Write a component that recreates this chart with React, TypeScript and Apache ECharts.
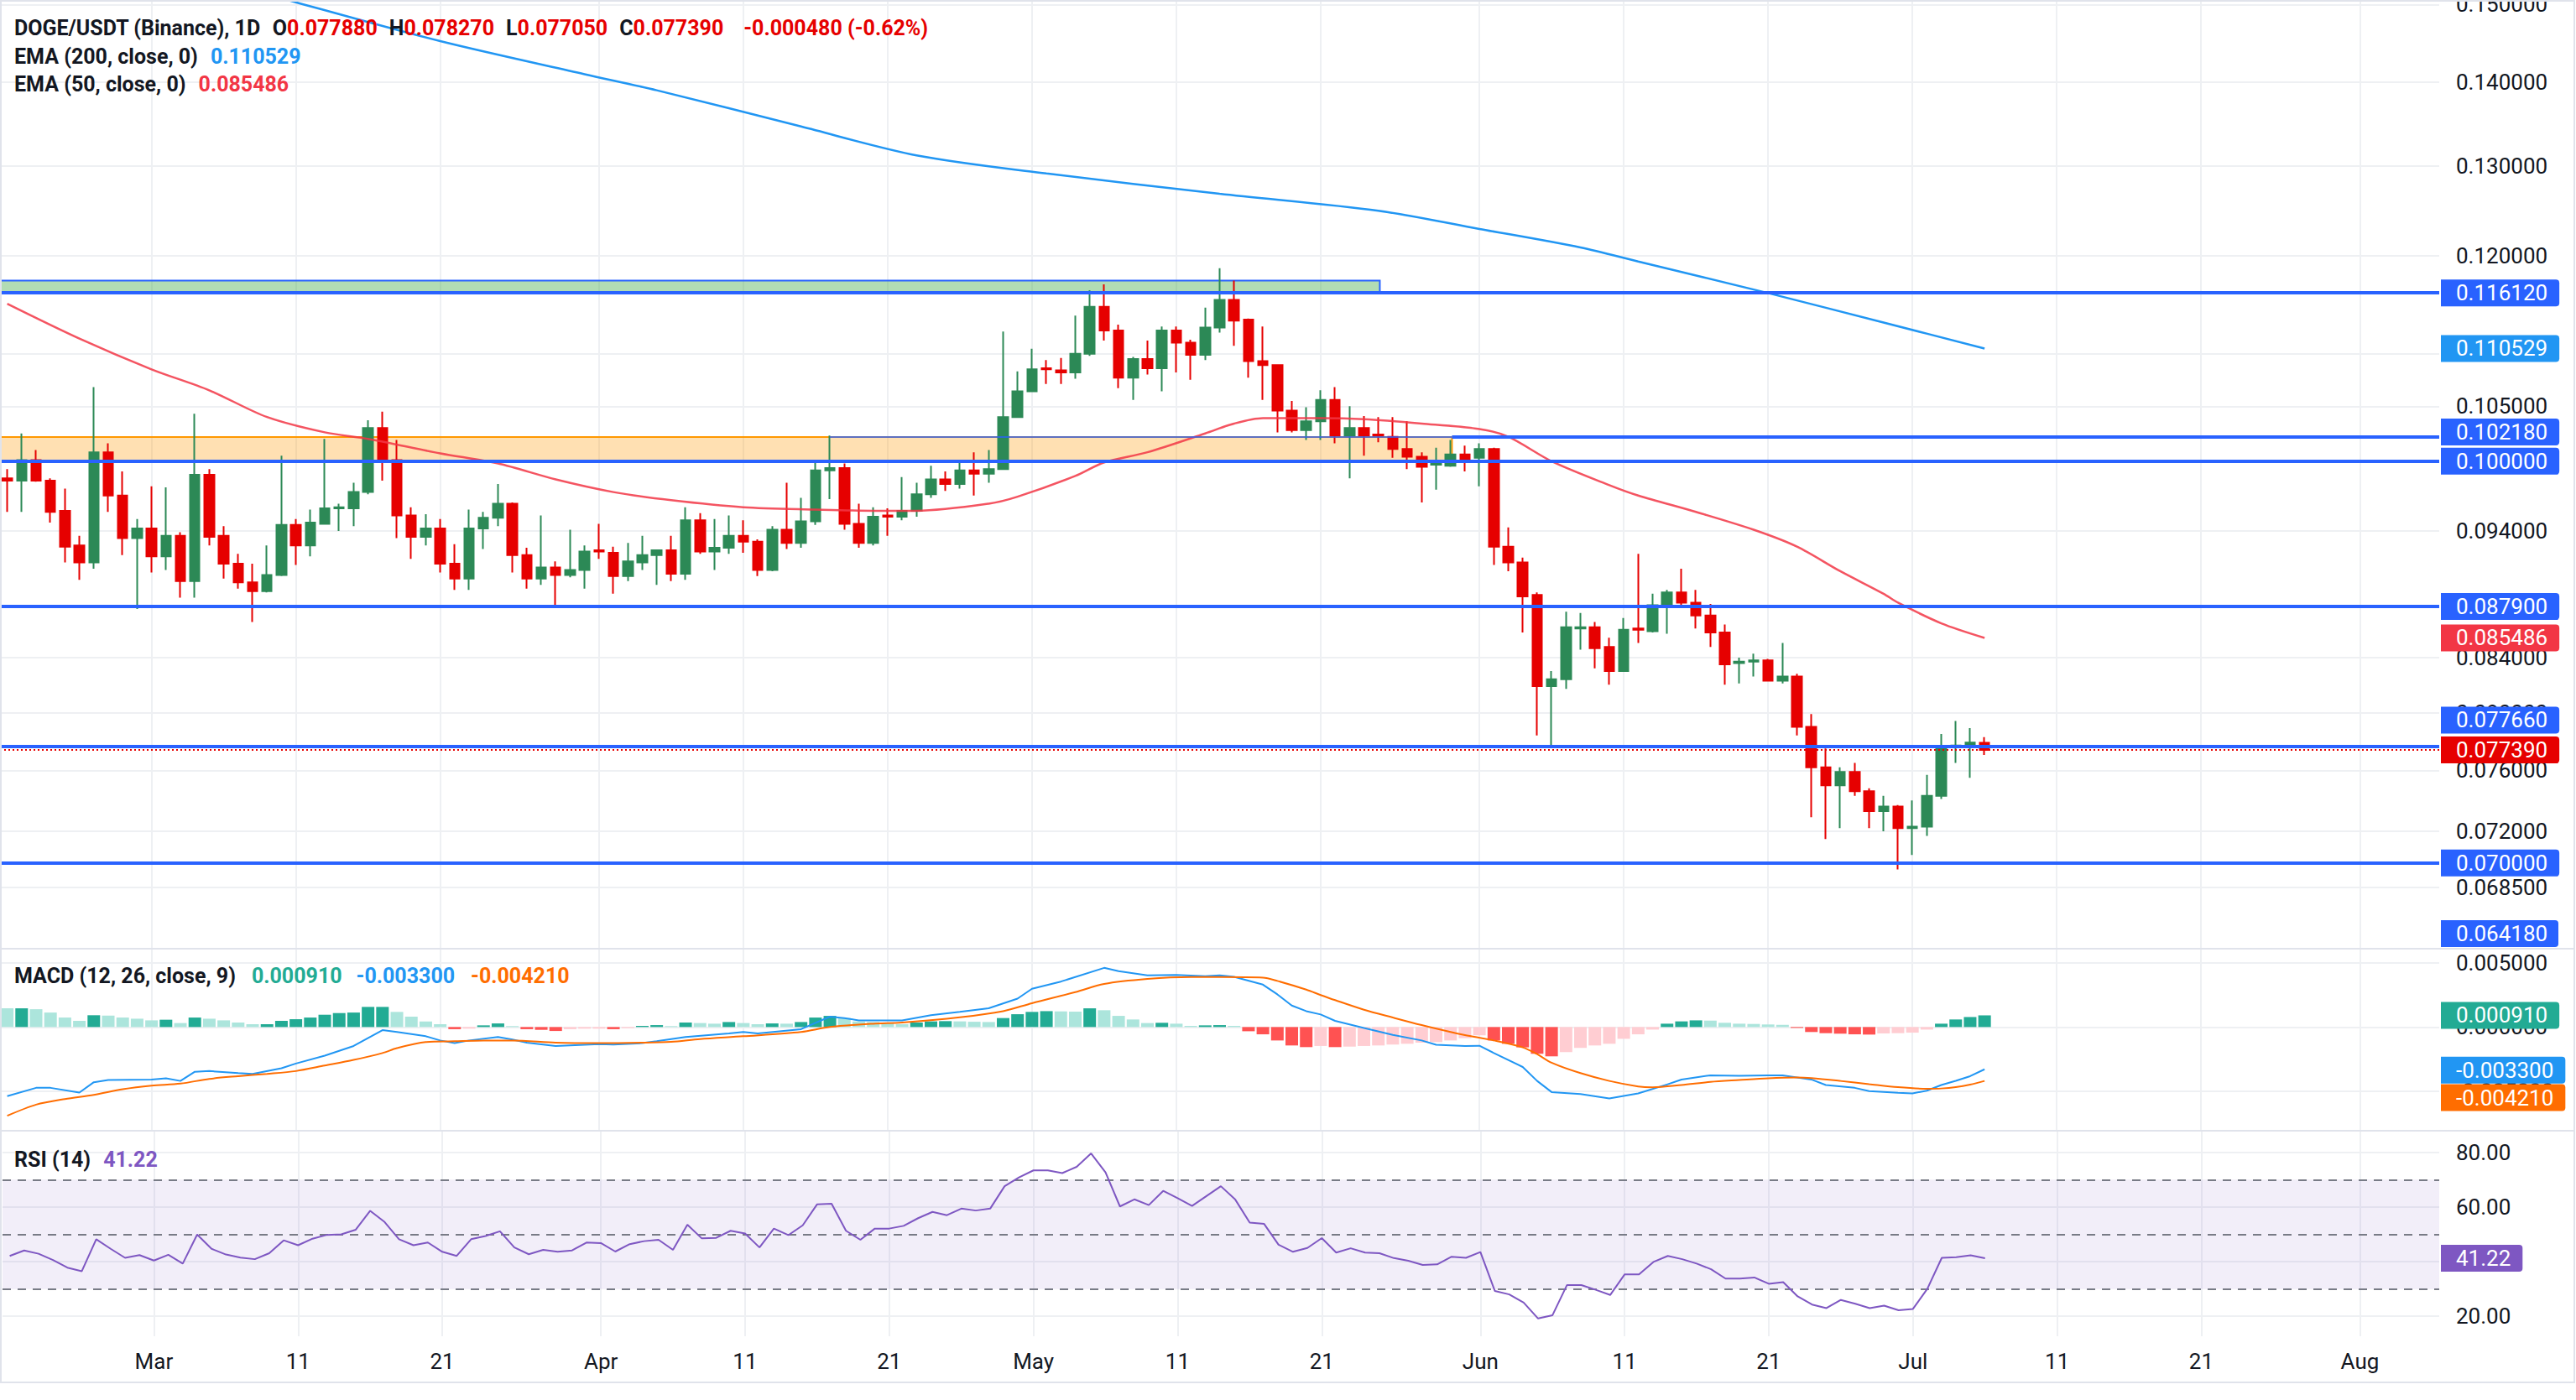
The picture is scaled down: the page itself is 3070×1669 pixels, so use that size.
import React, { useEffect, useRef } from 'react';
import * as echarts from 'echarts';

// ---------- DATA (day index 0 = Feb 19, 138 daily candles to Jul 6) ----------
const opens = [
  0.0985, 0.0983, 0.1001, 0.0983, 0.0957, 0.0928, 0.0914, 0.1008, 0.0970, 0.0934,
  0.0942, 0.0919, 0.0936, 0.0899, 0.0988, 0.0936, 0.0913, 0.0898, 0.0891, 0.0904,
  0.0945, 0.0928, 0.0946, 0.0959, 0.0959, 0.0973, 0.1030, 0.1001, 0.0953, 0.0935,
  0.0942, 0.0913, 0.0901, 0.0942, 0.0951, 0.0963, 0.0920, 0.0901, 0.0910, 0.0904,
  0.0908, 0.0924, 0.0922, 0.0903, 0.0914, 0.0920, 0.0924, 0.0905, 0.0949, 0.0923,
  0.0926, 0.0936, 0.0931, 0.0908, 0.0941, 0.0930, 0.0948, 0.0992, 0.0994, 0.0946,
  0.0930, 0.0953, 0.0952, 0.0957, 0.0971, 0.0984, 0.0980, 0.0992, 0.0989, 0.0993,
  0.1040, 0.1064, 0.1086, 0.1084, 0.1082, 0.1100, 0.1147, 0.1123, 0.1077, 0.1095,
  0.1086, 0.1123, 0.1111, 0.1099, 0.1126, 0.1154, 0.1134, 0.1093, 0.1089, 0.1046,
  0.1028, 0.1036, 0.1056, 0.1023, 0.1030, 0.1024, 0.1022, 0.1011, 0.1004, 0.0997,
  0.0996, 0.1006, 0.1003, 0.1011, 0.0927, 0.0914, 0.0888, 0.0819, 0.0824, 0.0862,
  0.0863, 0.0848, 0.0830, 0.0862, 0.0860, 0.0880, 0.0890, 0.0882, 0.0872, 0.0859,
  0.0836, 0.0837, 0.0838, 0.0823, 0.0826, 0.0790, 0.0762, 0.0750, 0.0759, 0.0746,
  0.0733, 0.0736, 0.0722, 0.0723, 0.0743, 0.0776, 0.0777, 0.07788,
];
const highs = [
  0.0993, 0.1025, 0.1010, 0.0985, 0.0976, 0.0936, 0.1068, 0.1016, 0.0991, 0.0950,
  0.0978, 0.0977, 0.0939, 0.1043, 0.0993, 0.0944, 0.0921, 0.0913, 0.0928, 0.1005,
  0.0950, 0.0958, 0.1020, 0.0963, 0.0981, 0.1037, 0.1045, 0.1019, 0.0960, 0.0954,
  0.0950, 0.0929, 0.0958, 0.0956, 0.0980, 0.0964, 0.0926, 0.0953, 0.0915, 0.0941,
  0.0928, 0.0946, 0.0927, 0.0930, 0.0936, 0.0924, 0.0936, 0.0960, 0.0955, 0.0950,
  0.0953, 0.0949, 0.0933, 0.0944, 0.0981, 0.0968, 0.0999, 0.1023, 0.0998, 0.0963,
  0.0960, 0.0959, 0.0986, 0.0981, 0.0996, 0.0991, 0.0999, 0.1008, 0.1010, 0.1122,
  0.1083, 0.1105, 0.1094, 0.1096, 0.1138, 0.1164, 0.1170, 0.1129, 0.1097, 0.1113,
  0.1127, 0.1127, 0.1114, 0.1146, 0.1187, 0.1174, 0.1135, 0.1127, 0.1090, 0.1055,
  0.1049, 0.1065, 0.1068, 0.1050, 0.1041, 0.1040, 0.1040, 0.1036, 0.1008, 0.1012,
  0.1019, 0.1014, 0.1016, 0.1012, 0.0943, 0.0918, 0.0890, 0.0830, 0.0875, 0.0874,
  0.0867, 0.0855, 0.0870, 0.0921, 0.0889, 0.0892, 0.0909, 0.0892, 0.0881, 0.0865,
  0.0840, 0.0843, 0.0839, 0.0851, 0.0828, 0.0799, 0.0775, 0.0762, 0.0765, 0.0748,
  0.0743, 0.0737, 0.0740, 0.0757, 0.0785, 0.0794, 0.0789, 0.07827,
];
const lows = [
  0.0956, 0.0956, 0.0982, 0.0947, 0.0914, 0.0900, 0.0909, 0.0956, 0.0920, 0.0877,
  0.0906, 0.0908, 0.0886, 0.0886, 0.0928, 0.0901, 0.0893, 0.0867, 0.0890, 0.0903,
  0.0912, 0.0919, 0.0946, 0.0940, 0.0944, 0.0971, 0.0983, 0.0934, 0.0917, 0.0928,
  0.0906, 0.0892, 0.0892, 0.0925, 0.0944, 0.0906, 0.0893, 0.0896, 0.0880, 0.0902,
  0.0893, 0.0917, 0.0889, 0.0899, 0.0908, 0.0896, 0.0899, 0.0900, 0.0921, 0.0908,
  0.0921, 0.0922, 0.0903, 0.0907, 0.0925, 0.0926, 0.0945, 0.0967, 0.0941, 0.0926,
  0.0928, 0.0936, 0.0949, 0.0952, 0.0968, 0.0974, 0.0976, 0.0970, 0.0981, 0.0993,
  0.1040, 0.1064, 0.1071, 0.1071, 0.1076, 0.1098, 0.1113, 0.1067, 0.1056, 0.1080,
  0.1064, 0.1082, 0.1075, 0.1094, 0.1121, 0.1108, 0.1077, 0.1056, 0.1026, 0.1026,
  0.1019, 0.1019, 0.1016, 0.0985, 0.1005, 0.1017, 0.1003, 0.0993, 0.0964, 0.0975,
  0.0995, 0.0991, 0.0978, 0.0912, 0.0907, 0.0859, 0.0784, 0.07766, 0.0817, 0.0846,
  0.0832, 0.0820, 0.0830, 0.0851, 0.0859, 0.0858, 0.0880, 0.0862, 0.0848, 0.0820,
  0.0821, 0.0826, 0.0823, 0.0821, 0.0784, 0.0729, 0.0715, 0.0722, 0.0743, 0.0722,
  0.0720, 0.0696, 0.0705, 0.0717, 0.0741, 0.0765, 0.0755, 0.07705,
];
const closes = [
  0.0983, 0.1001, 0.0983, 0.0956, 0.0927, 0.0914, 0.1008, 0.0970, 0.0934, 0.0942,
  0.0919, 0.0936, 0.0899, 0.0988, 0.0935, 0.0913, 0.0898, 0.0891, 0.0904, 0.0945,
  0.0928, 0.0947, 0.0959, 0.0960, 0.0973, 0.1030, 0.1001, 0.0953, 0.0935, 0.0942,
  0.0913, 0.0901, 0.0942, 0.0951, 0.0963, 0.0920, 0.0901, 0.0910, 0.0904, 0.0908,
  0.0923, 0.0923, 0.0903, 0.0915, 0.0920, 0.0924, 0.0905, 0.0949, 0.0923, 0.0926,
  0.0936, 0.0931, 0.0908, 0.0941, 0.0930, 0.0948, 0.0992, 0.0994, 0.0946, 0.0930,
  0.0952, 0.0952, 0.0957, 0.0971, 0.0984, 0.0980, 0.0992, 0.0989, 0.0993, 0.1040,
  0.1064, 0.1085, 0.1085, 0.1082, 0.1100, 0.1147, 0.1123, 0.1077, 0.1095, 0.1086,
  0.1123, 0.1111, 0.1099, 0.1126, 0.1154, 0.1133, 0.1093, 0.1089, 0.1046, 0.1028,
  0.1036, 0.1056, 0.1023, 0.1030, 0.1023, 0.1023, 0.1011, 0.1004, 0.0995, 0.0998,
  0.1006, 0.1002, 0.1011, 0.0927, 0.0914, 0.0887, 0.0819, 0.0824, 0.0863, 0.0863,
  0.0847, 0.0830, 0.0861, 0.0861, 0.0880, 0.0890, 0.0882, 0.0872, 0.0859, 0.0835,
  0.0837, 0.0838, 0.0823, 0.0826, 0.0790, 0.0762, 0.0750, 0.0759, 0.0746, 0.0733,
  0.0736, 0.0722, 0.0723, 0.0743, 0.0776, 0.0777, 0.0779, 0.07739,
];

// EMA readings [dayIndex, value]
const ema200 = [
  [0, 0.1615], [10, 0.1558], [20, 0.1503], [30, 0.1452], [40, 0.1410], [45, 0.1390],
  [55, 0.1346], [63, 0.1312], [72, 0.1291], [84, 0.1268], [95, 0.1249], [102, 0.1229],
  [109, 0.1209], [113, 0.1194], [122, 0.1161], [130, 0.1131], [137, 0.110529],
];
const ema50 = [
  [0, 0.1150], [5, 0.1115], [10, 0.1085], [14, 0.1065], [18, 0.1040], [22, 0.1026],
  [25, 0.1020], [30, 0.1007], [34, 0.0998], [38, 0.0984], [42, 0.0973], [46, 0.0966],
  [51, 0.0960], [56, 0.0958], [60, 0.0957], [63, 0.0957], [68, 0.0963], [70, 0.0969],
  [74, 0.0987], [76, 0.0999], [79, 0.1008], [83, 0.1025], [85, 0.1034], [87, 0.1039],
  [91, 0.1039], [94, 0.1038], [98, 0.1034], [102, 0.1029], [104, 0.1022], [107, 0.1000],
  [111, 0.0979], [113, 0.0970], [117, 0.0956], [121, 0.0941], [124, 0.0927], [127, 0.0907],
  [130, 0.0889], [131, 0.0882], [134, 0.0866], [137, 0.085486],
];

// MACD (12, 26, 9)
const macdHist = [
  0.00146, 0.00146, 0.00139, 0.00113, 0.00074, 0.00048, 0.00092, 0.00089, 0.00074, 0.00065,
  0.00052, 0.00057, 0.00031, 0.00074, 0.00065, 0.00052, 0.00035, 0.00022, 0.00022, 0.00048,
  0.00061, 0.00074, 0.00096, 0.00109, 0.00113, 0.00157, 0.00157, 0.00118, 0.00081, 0.00044,
  0.00022, -0.00017, -0.00013, 0.00013, 0.00028, 0.00007, -0.00017, -0.00022, -0.00031, -0.00017,
  -0.00013, -0.00013, -0.00017, -0.00009, 0.00009, 0.00015, 0.00007, 0.00035, 0.00031, 0.00026,
  0.00039, 0.00031, 0.00022, 0.00028, 0.00026, 0.00039, 0.00074, 0.00087, 0.00070, 0.00044,
  0.00039, 0.00031, 0.00022, 0.00035, 0.00044, 0.00046, 0.00044, 0.00041, 0.00039, 0.00070,
  0.00100, 0.00118, 0.00124, 0.00122, 0.00120, 0.00146, 0.00131, 0.00087, 0.00059, 0.00031,
  0.00033, 0.00026, 0.00009, 0.00013, 0.00015, 0.00009, -0.00033, -0.00057, -0.00105, -0.00144,
  -0.00157, -0.00148, -0.00157, -0.00153, -0.00148, -0.00144, -0.00137, -0.00131, -0.00122, -0.00118,
  -0.00105, -0.00087, -0.00065, -0.00105, -0.00131, -0.00159, -0.00209, -0.00229, -0.00196, -0.00163,
  -0.00144, -0.00131, -0.00092, -0.00057, -0.00020, 0.00026, 0.00044, 0.00052, 0.00050, 0.00033,
  0.00026, 0.00024, 0.00020, 0.00017, -0.00007, -0.00039, -0.00048, -0.00052, -0.00057, -0.00059,
  -0.00050, -0.00048, -0.00044, -0.00020, 0.00026, 0.00059, 0.00078, 0.00091,
];
const macdLine = [
  [0, -0.0054], [2, -0.00475], [3, -0.00475], [5, -0.00512], [6, -0.00431], [7, -0.00414],
  [10, -0.0041], [11, -0.00401], [12, -0.00421], [13, -0.00349], [14, -0.00344], [16, -0.0036],
  [17, -0.00366], [19, -0.00322], [20, -0.00285], [22, -0.00224], [24, -0.00148], [26, -0.00024],
  [27, -0.00039], [29, -0.00072], [30, -0.00105], [31, -0.00126], [32, -0.00105], [34, -0.00078],
  [35, -0.00098], [36, -0.00122], [38, -0.00148], [41, -0.00133], [42, -0.00137], [44, -0.00126],
  [45, -0.00111], [47, -0.00078], [50, -0.0005], [51, -0.00039], [52, -0.0005], [55, -0.00017],
  [57, 0.00081], [58, 0.0007], [59, 0.00052], [62, 0.00052], [64, 0.00092], [66, 0.00118],
  [68, 0.00146], [70, 0.00222], [71, 0.00299], [73, 0.00355], [76, 0.00462], [77, 0.00436],
  [79, 0.00403], [81, 0.00407], [83, 0.00397], [84, 0.00403], [85, 0.00392], [87, 0.00331],
  [88, 0.00255], [89, 0.00168], [90, 0.00124], [91, 0.00098], [92, 0.00048], [94, -0.00007],
  [96, -0.00061], [98, -0.00105], [99, -0.00139], [101, -0.00148], [102, -0.00146], [103, -0.00203],
  [105, -0.00312], [106, -0.00421], [107, -0.00508], [109, -0.00523], [111, -0.00558], [113, -0.00519],
  [115, -0.00449], [116, -0.0041], [118, -0.00377], [120, -0.00381], [122, -0.00377], [123, -0.00377],
  [125, -0.0041], [126, -0.00453], [128, -0.00475], [129, -0.00501], [131, -0.00514], [132, -0.00519],
  [133, -0.00497], [134, -0.00453], [135, -0.0042], [136, -0.00384], [137, -0.0033],
];
const signalLine = [
  [0, -0.00693], [2, -0.00606], [4, -0.00562], [6, -0.0053], [8, -0.00486], [10, -0.00458],
  [12, -0.00442], [14, -0.00405], [16, -0.00384], [18, -0.00366], [20, -0.00344], [22, -0.00301],
  [24, -0.00257], [26, -0.00203], [27, -0.00165], [29, -0.00118], [31, -0.00111], [33, -0.00105],
  [35, -0.00105], [38, -0.00122], [41, -0.00126], [44, -0.00122], [46, -0.00115], [48, -0.00094],
  [51, -0.00072], [55, -0.00039], [57, 0.0], [60, 0.00026], [62, 0.00035], [66, 0.00076],
  [69, 0.00124], [71, 0.00186], [74, 0.00272], [76, 0.00336], [79, 0.00375], [82, 0.0039],
  [84, 0.0039], [87, 0.00386], [88, 0.0036], [90, 0.00292], [91, 0.0025], [92, 0.0021],
  [94, 0.00135], [96, 0.00074], [98, 0.00015], [100, -0.00039], [101, -0.00063], [103, -0.00105],
  [105, -0.00159], [106, -0.00212], [107, -0.00279], [109, -0.0036], [111, -0.00421], [113, -0.00464],
  [114, -0.00471], [116, -0.00453], [118, -0.00429], [120, -0.00414], [122, -0.004], [124, -0.00394],
  [125, -0.00399], [127, -0.00421], [129, -0.00446], [131, -0.0047], [133, -0.00482], [134, -0.0048],
  [135, -0.0047], [136, -0.0045], [137, -0.00421],
];

// RSI (14)
const rsi = [
  42.1, 44.1, 42.9, 40.6, 37.8, 36.5, 48.2, 44.7, 41.4, 42.4,
  40.4, 42.5, 39.3, 49.9, 44.7, 42.6, 41.5, 40.9, 43.1, 47.8,
  46.0, 48.4, 49.8, 50.0, 51.7, 58.6, 54.5, 48.2, 46.0, 47.0,
  43.6, 42.1, 48.2, 49.4, 51.1, 45.2, 42.7, 44.3, 43.6, 44.1,
  47.0, 46.8, 43.7, 46.4, 47.5, 48.0, 44.3, 53.5, 48.5, 48.7,
  51.3, 50.3, 45.2, 52.1, 49.7, 53.3, 61.0, 61.2, 51.3, 48.0,
  52.1, 52.1, 53.1, 55.9, 58.2, 57.0, 59.4, 58.7, 59.4, 67.6,
  70.8, 73.4, 73.4, 72.4, 74.7, 79.6, 72.7, 60.2, 62.8, 60.7,
  65.9, 63.2, 60.4, 64.0, 67.6, 62.7, 54.3, 53.8, 46.2, 43.6,
  45.0, 48.6, 43.3, 44.9, 43.3, 43.1, 41.3, 40.3, 38.8, 39.0,
  41.8, 41.4, 43.5, 29.3, 28.0, 25.0, 19.2, 20.4, 31.4, 31.4,
  29.7, 27.8, 35.3, 35.3, 39.9, 42.1, 40.9, 39.3, 37.2, 33.8,
  33.8, 34.2, 31.9, 32.5, 27.3, 24.3, 23.0, 26.0, 24.6, 23.0,
  23.9, 22.2, 22.7, 30.1, 41.4, 41.6, 42.3, 41.22,
];

// Axis ticks
const tickDays = [10, 20, 30, 41, 51, 61, 71, 81, 91, 102, 112, 122, 132, 142, 152, 163];
const tickLabels = ['Mar', '11', '21', 'Apr', '11', '21', 'May', '11', '21', 'Jun', '11', '21', 'Jul', '11', '21', 'Aug'];
const priceTicks = [0.15, 0.14, 0.13, 0.12, 0.11, 0.105, 0.1, 0.094, 0.088, 0.084, 0.08, 0.076, 0.072, 0.0685];
const macdTicks = [0.005, 0, -0.005];
const rsiTicks = [80, 60, 40, 20];

// Drawn levels / zones
const fullLevels = [0.11612, 0.1, 0.0879, 0.07766, 0.07];
const rayLevel = 0.10218;
const rayStartDay = 57;
const orangeZone = { low: 0.1, high: 0.10218, endDay: 100.1 };
const greenZone = { low: 0.11612, high: 0.1174, endDay: 95.1 };
const lastPrice = 0.07739;
const offscreenLevel = '0.064180';

// Header texts
const headerSymbol = 'DOGE/USDT (Binance), 1D';
const headerOHLC = ['0.077880', '0.078270', '0.077050', '0.077390'];
const headerChange = '-0.000480 (-0.62%)';

// ---------- STYLE ----------
const FF = 'Roboto, "Liberation Sans", Arial, sans-serif';
const GREEN = '#2c8956';
const RED = '#e60000';
const BLUE = '#2962ff';
const GRIDC = '#eef0f3';
const TXT = '#131722';
const XMIN = -0.5;
const XMAX = 168.5;

function buildOption() {
  const vLines = tickDays.map((d) => ({ xAxis: d, label: { show: false } }));
  const tickLine = (v: number, text: string) => ({
    yAxis: v,
    label: { show: true, position: 'end', distance: 20, formatter: text, color: TXT, fontSize: 26, fontFamily: FF, opacity: 1 },
  });
  const gridSeries = (idx: number, ticks: number[], fmt: (v: number) => string) => ({
    type: 'line', xAxisIndex: idx, yAxisIndex: idx, data: [], silent: true, z: 0,
    markLine: {
      silent: true, symbol: ['none', 'none'], z: 0, animation: false, precision: 10,
      lineStyle: { color: GRIDC, width: 2, type: 'solid' },
      label: { show: false },
      emphasis: { disabled: true },
      data: [...vLines, ...ticks.map((t) => tickLine(t, fmt(t)))],
    },
  });
  const badge = (v: number, text: string, bg: string, dy = 0) => ({
    yAxis: v,
    lineStyle: { color: 'rgba(0,0,0,0)', width: 1, opacity: 1 },
    label: {
      show: true, position: 'end', distance: 2, formatter: text, backgroundColor: bg, color: '#ffffff', opacity: 1,
      fontSize: 26, fontFamily: FF, lineHeight: 26, padding: [3, 14, 3, 18], borderRadius: [0, 4, 4, 0], offset: [0, dy],
    },
  });
  const badgeSeries = (idx: number, items: any[]) => ({
    type: 'line', xAxisIndex: idx, yAxisIndex: idx, data: [], silent: true, z: 10,
    markLine: { silent: true, symbol: ['none', 'none'], z: 10, animation: false, precision: 10, emphasis: { disabled: true }, data: items },
  });

  const candleData = opens.map((o, i) => [i, o, closes[i], lows[i], highs[i]]);
  const histData = macdHist.map((v, i) => {
    const prev = i > 0 ? macdHist[i - 1] : Infinity;
    const color = v >= 0 ? (v >= prev ? '#22ab94' : '#ace5dc') : (v < prev ? '#ff5252' : '#ffcdd2');
    return { value: [i, v], itemStyle: { color } };
  });

  const base = { fontSize: 25, fontFamily: FF, lineHeight: 30 };
  const RICH = {
    t: { ...base, color: TXT },
    k: { ...base, color: TXT, padding: [0, 0, 0, 14] },
    r: { ...base, color: RED },
    c: { ...base, color: RED, padding: [0, 0, 0, 24] },
    b: { ...base, color: '#2196f3', padding: [0, 0, 0, 15] },
    e: { ...base, color: '#f23645', padding: [0, 0, 0, 15] },
    g: { ...base, color: '#22ab94', padding: [0, 0, 0, 19] },
    m: { ...base, color: '#2196f3', padding: [0, 0, 0, 17] },
    o: { ...base, color: '#ff6d00', padding: [0, 0, 0, 19] },
    p: { ...base, color: '#7e57c2', padding: [0, 0, 0, 15] },
  };
  const title = (top: number, text: string) => ({ left: 17, top, padding: 0, text, textStyle: { rich: RICH, ...base } });

  const xAxis = [0, 1, 2].map((g) => ({
    type: 'value', gridIndex: g, min: XMIN, max: XMAX, interval: 0.5,
    axisLine: { show: false }, axisTick: { show: false }, splitLine: { show: false },
    axisLabel: g === 2
      ? {
          show: true, margin: 17, color: TXT, fontSize: 26, fontFamily: FF, hideOverlap: false,
          formatter: (v: number) => { const k = tickDays.indexOf(v); return k >= 0 ? tickLabels[k] : ''; },
        }
      : { show: false },
  }));

  return {
    animation: false,
    backgroundColor: '#ffffff',
    title: [
      title(18, `{t|${headerSymbol}}{k|O}{r|${headerOHLC[0]}}{k|H}{r|${headerOHLC[1]}}{k|L}{r|${headerOHLC[2]}}{k|C}{r|${headerOHLC[3]}}{c|${headerChange}}`),
      title(52, `{t|EMA (200, close, 0)}{b|${ema200[ema200.length - 1][1].toFixed(6)}}`),
      title(85, `{t|EMA (50, close, 0)}{e|${ema50[ema50.length - 1][1].toFixed(6)}}`),
      title(1148, `{t|MACD (12, 26, close, 9)}{g|${macdHist[macdHist.length - 1].toFixed(6)}}{m|${macdLine[macdLine.length - 1][1].toFixed(6)}}{o|${signalLine[signalLine.length - 1][1].toFixed(6)}}`),
      title(1367, `{t|RSI (14)}{p|${rsi[rsi.length - 1].toFixed(2)}}`),
    ],
    grid: [
      { left: 0, top: 0, width: 2907, height: 1130 },
      { left: 0, top: 1132, width: 2907, height: 216 },
      { left: 0, top: 1348, width: 2907, height: 245 },
    ],
    xAxis,
    yAxis: [
      { type: 'log', logBase: 10, gridIndex: 0, min: 0.06492, max: 0.1506, show: false },
      { type: 'value', gridIndex: 1, min: -0.0081, max: 0.00605, show: false },
      { type: 'value', gridIndex: 2, min: 12.7, max: 87.9, show: false },
    ],
    graphic: [
      { type: 'rect', shape: { x: 1, y: 1, width: 3067, height: 1647 }, style: { fill: 'none', stroke: '#e0e3eb', lineWidth: 2 }, z: 50, silent: true },
      { type: 'line', shape: { x1: 0, y1: 1131, x2: 3068, y2: 1131 }, style: { stroke: '#e0e3eb', lineWidth: 2 }, z: 50, silent: true },
      { type: 'line', shape: { x1: 0, y1: 1348, x2: 3068, y2: 1348 }, style: { stroke: '#e0e3eb', lineWidth: 2 }, z: 50, silent: true },
      {
        type: 'group', x: 2909, y: 1097, z: 60, silent: true,
        children: [
          { type: 'rect', shape: { x: 0, y: 0, width: 140, height: 32, r: [0, 4, 4, 0] }, style: { fill: BLUE } },
          { type: 'text', x: 18, y: 16, style: { text: offscreenLevel, fill: '#ffffff', font: `26px ${FF}`, verticalAlign: 'middle' } },
        ],
      },
    ],
    series: [
      // ---- main pane ----
      gridSeries(0, priceTicks, (v) => v.toFixed(6)),
      {
        type: 'line', xAxisIndex: 0, yAxisIndex: 0, data: [], silent: true, z: 1,
        markArea: {
          silent: true, z: 1,
          data: [
            [
              { yAxis: orangeZone.low, itemStyle: { color: 'rgba(255,152,0,0.3)', borderColor: '#ff9800', borderWidth: 2 } },
              { xAxis: orangeZone.endDay, yAxis: orangeZone.high },
            ],
            [
              { yAxis: greenZone.low, itemStyle: { color: 'rgba(76,175,80,0.43)', borderColor: BLUE, borderWidth: 2 } },
              { xAxis: greenZone.endDay, yAxis: greenZone.high },
            ],
          ],
        },
      },
      {
        type: 'candlestick', xAxisIndex: 0, yAxisIndex: 0, z: 2, barWidth: 12, silent: true,
        data: candleData,
        itemStyle: { color: GREEN, color0: RED, borderColor: GREEN, borderColor0: RED, borderWidth: 2 },
      },
      {
        type: 'line', xAxisIndex: 0, yAxisIndex: 0, z: 3, data: ema200, showSymbol: false, smooth: 0.3, silent: true,
        lineStyle: { color: '#2196f3', width: 2.5 },
      },
      {
        type: 'line', xAxisIndex: 0, yAxisIndex: 0, z: 3, data: ema50, showSymbol: false, smooth: 0.3, silent: true,
        lineStyle: { color: '#f23645', width: 2.5, opacity: 0.85 },
      },
      {
        type: 'line', xAxisIndex: 0, yAxisIndex: 0, data: [], silent: true, z: 6,
        markLine: {
          silent: true, symbol: ['none', 'none'], z: 6, animation: false, precision: 10, emphasis: { disabled: true },
          label: { show: false },
          data: [
            ...fullLevels.map((v) => ({ yAxis: v, lineStyle: { color: BLUE, width: 4, type: 'solid' } })),
            [{ coord: [rayStartDay, rayLevel], lineStyle: { color: BLUE, width: 1.5, type: 'solid' } }, { coord: [orangeZone.endDay, rayLevel] }],
            [{ coord: [orangeZone.endDay, rayLevel], lineStyle: { color: BLUE, width: 4, type: 'solid' } }, { coord: [XMAX, rayLevel] }],
            { yAxis: lastPrice, lineStyle: { color: RED, width: 2, type: [2, 3] } },
          ],
        },
      },
      badgeSeries(0, [
        badge(0.11612, '0.116120', BLUE),
        badge(ema200[ema200.length - 1][1], '0.110529', '#2196f3'),
        badge(rayLevel, '0.102180', BLUE, -6),
        badge(0.1, '0.100000', BLUE),
        badge(0.0879, '0.087900', BLUE),
        badge(ema50[ema50.length - 1][1], '0.085486', '#f23645'),
        badge(0.07766, '0.077660', BLUE, -31),
        badge(lastPrice, '0.077390', RED),
        badge(0.07, '0.070000', BLUE),
      ]),
      // ---- MACD pane ----
      gridSeries(1, macdTicks, (v) => v.toFixed(6)),
      { type: 'bar', xAxisIndex: 1, yAxisIndex: 1, z: 2, barWidth: 15, data: histData, silent: true },
      {
        type: 'line', xAxisIndex: 1, yAxisIndex: 1, z: 3, data: macdLine, showSymbol: false, silent: true,
        lineStyle: { color: '#2196f3', width: 2 },
      },
      {
        type: 'line', xAxisIndex: 1, yAxisIndex: 1, z: 3, data: signalLine, showSymbol: false, smooth: 0.3, silent: true,
        lineStyle: { color: '#ff6d00', width: 2 },
      },
      badgeSeries(1, [
        badge(macdHist[macdHist.length - 1], '0.000910', '#22ab94'),
        badge(macdLine[macdLine.length - 1][1], '-0.003300', '#2196f3', 1),
        badge(signalLine[signalLine.length - 1][1], '-0.004210', '#ff6d00', 20),
      ]),
      // ---- RSI pane ----
      gridSeries(2, rsiTicks, (v) => v.toFixed(2)),
      {
        type: 'line', xAxisIndex: 2, yAxisIndex: 2, data: [], silent: true, z: 1,
        markArea: { silent: true, z: 1, data: [[{ yAxis: 30, itemStyle: { color: 'rgba(126,87,194,0.1)' } }, { yAxis: 70 }]] },
        markLine: {
          silent: true, symbol: ['none', 'none'], z: 2, animation: false, precision: 10, emphasis: { disabled: true },
          label: { show: false },
          lineStyle: { color: '#787b86', width: 2, type: [10, 8] },
          data: [{ yAxis: 70 }, { yAxis: 50 }, { yAxis: 30 }],
        },
      },
      {
        type: 'line', xAxisIndex: 2, yAxisIndex: 2, z: 3, data: rsi.map((v, i) => [i, v]), showSymbol: false, silent: true,
        lineStyle: { color: '#7e57c2', width: 2 },
      },
      badgeSeries(2, [badge(rsi[rsi.length - 1], '41.22', '#7e57c2')]),
    ],
  };
}

export default function App() {
  const ref = useRef<HTMLDivElement>(null);
  useEffect(() => {
    const chart = echarts.init(ref.current as HTMLDivElement, null, { renderer: 'svg' });
    chart.setOption(buildOption() as any);
    return () => chart.dispose();
  }, []);
  return (
    <div
      ref={ref}
      style={{ position: 'fixed', left: 0, top: 0, width: 3070, height: 1669, background: '#ffffff' }}
    />
  );
}
